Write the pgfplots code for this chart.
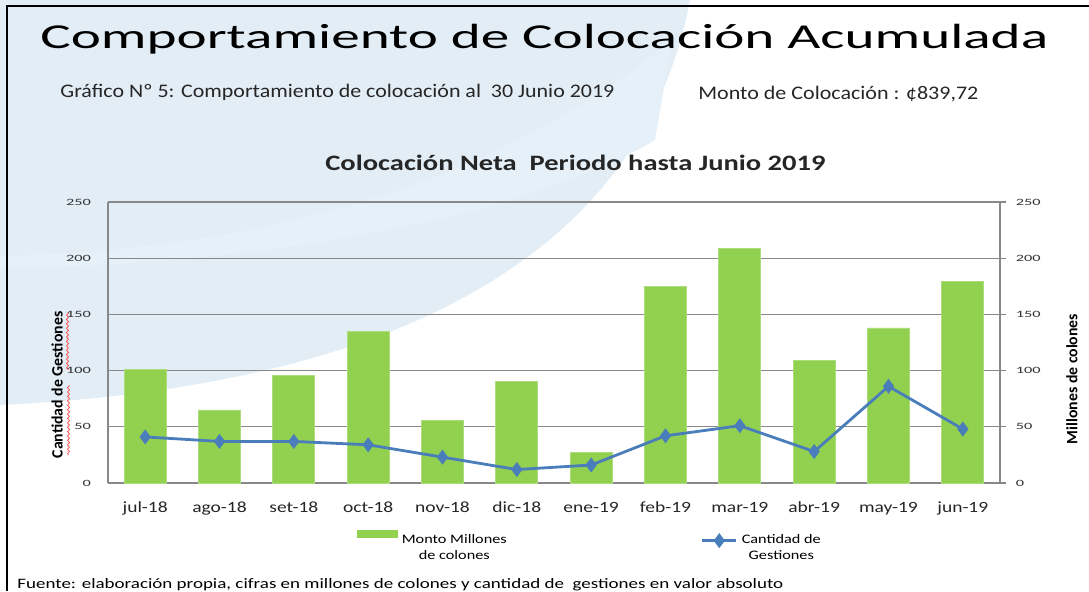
\documentclass[border=0pt]{standalone}
\usepackage{fontspec}
\setmainfont{Carlito}[FakeStretch=1.25]
\newfontfamily\plainfont{Carlito}
\newfontfamily\widefont{Carlito}[FakeStretch=1.7]
\usepackage{graphicx}
\usepackage{pgfplots}
\pgfplotsset{compat=1.18}
\usetikzlibrary{decorations.pathmorphing}

\definecolor{bargreen}{HTML}{92D050}
\definecolor{lineblue}{HTML}{4A7EBB}
\definecolor{gridgray}{HTML}{888888}
\definecolor{swoosh}{HTML}{E3EDF6}
\definecolor{swooshlight}{HTML}{E6F0F8}

% montos en millones de colones y cantidad de gestiones por mes
\pgfplotstableread{
idx month  monto gestiones
0   jul-18 101   41
1   ago-18 65    37
2   set-18 96    37
3   oct-18 135   34
4   nov-18 56    23
5   dic-18 90    12
6   ene-19 27    16
7   feb-19 175   42
8   mar-19 209   51
9   abr-19 109   28
10  may-19 138   86
11  jun-19 179   48
}\datos

% ancho fijo, alto natural
\newcommand{\fitw}[2]{\resizebox{#1}{\height}{#2}}

\begin{document}
\begin{tikzpicture}
\begin{scope}[x=0.5pt,y=-0.5pt]
  \path[use as bounding box] (0,0) rectangle (1089,591);
  % fondo de la diapositiva
  \fill[swoosh] (0,0) -- (690,0) .. controls (645,240) and (420,385) .. (0,405) -- cycle;
  \fill[swooshlight] (0,256) .. controls (250,250) and (490,190) .. (672,40)
     -- (655,140) .. controls (520,220) and (250,266) .. (0,268) -- cycle;
  \draw[line width=1.1pt] (1089,6) -- (7,6) -- (7,591);
  % textos
  \node[anchor=base west, inner sep=0pt, font=\plainfont\fontsize{17.5}{20}\selectfont]
    at (40,48) {\fitw{504pt}{Comportamiento de Colocación Acumulada}};
  \node[anchor=base west, inner sep=0pt, font=\plainfont\fontsize{9.6}{11}\selectfont, text=black!85]
    at (60,97) {\fitw{277pt}{Gráfico Nº 5: Comportamiento de colocación al\ \ 30 Junio 2019}};
  \node[anchor=base west, inner sep=0pt, font=\plainfont\fontsize{9.6}{11}\selectfont, text=black!85]
    at (698,99) {\fitw{140pt}{Monto de Colocación : ¢839,72}};
  \node[anchor=base west, inner sep=0pt, font=\plainfont\bfseries\fontsize{11}{13}\selectfont, text=black!85]
    at (325,170) {\fitw{250pt}{Colocación Neta\ \ Periodo hasta Junio 2019}};
  \node[anchor=base west, inner sep=0pt, font=\plainfont\fontsize{7.2}{9}\selectfont]
    at (17,588) {\fitw{383pt}{Fuente: elaboración propia, cifras en millones de colones y cantidad de\ \ gestiones en valor absoluto}};
  % subrayado ortográfico
  \draw[red!80, line width=0.3pt, decorate, decoration={snake, amplitude=0.5pt, segment length=2.2pt}]
    (68.5,455) -- (68.5,386) (68.5,370) -- (68.5,313);
\end{scope}

% montos (eje derecho)
\begin{axis}[
  at={(54pt,-241.5pt)}, anchor=south west,
  scale only axis, width=446pt, height=140.5pt,
  xmin=-0.5, xmax=11.5, ymin=0, ymax=250,
  ybar, bar width=21pt,
  axis y line*=right, axis x line*=bottom,
  axis line style={gridgray, line width=0.6pt},
  ymajorgrids, grid style={gridgray, line width=0.6pt},
  ytick={0,50,...,250},
  tick align=outside, major tick length=3pt,
  ytick style={gridgray, line width=0.6pt},
  xtick=data, xticklabels from table={\datos}{month},
  xtick style={draw=none},
  xticklabel style={font=\fontsize{7.8}{9}\selectfont, text=black!85, yshift=-3pt},
  yticklabel style={font=\widefont\fontsize{4.8}{6}\selectfont, text=black!80, xshift=1.4pt},
  /pgf/number format/assume math mode=true,
  every axis y label/.style={at={(axis description cs:1.0807,0.37)}, rotate=90, anchor=center},
  ylabel={\plainfont\bfseries\fontsize{7.9}{9}\selectfont Millones de colones},
]
  \addplot[fill=bargreen, draw=bargreen!75!white, line width=0.4pt] table[x=idx, y=monto] {\datos};
\end{axis}

% gestiones (eje izquierdo)
\begin{axis}[
  at={(54pt,-241.5pt)}, anchor=south west,
  scale only axis, width=446pt, height=140.5pt,
  xmin=-0.5, xmax=11.5, ymin=0, ymax=250,
  axis y line*=left, axis x line=none,
  axis line style={gridgray, line width=0.6pt},
  ytick={0,50,...,250}, ytick style={draw=none},
  yticklabel style={font=\widefont\fontsize{4.8}{6}\selectfont, text=black!80, xshift=-5pt},
  /pgf/number format/assume math mode=true,
  every axis y label/.style={at={(axis description cs:-0.057,0.349)}, rotate=90, anchor=center},
  ylabel={\plainfont\bfseries\fontsize{7.9}{9}\selectfont Cantidad de Gestiones},
  legend style={at={(axis description cs:0.272,-0.151)}, anchor=north west,
    draw=none, fill=none, legend columns=2,
    font=\fontsize{6.5}{8}\selectfont, cells={align=center},
    /tikz/every even column/.append style={column sep=95pt}},
  legend image post style={yshift=4pt},
]
  \addlegendimage{legend image code/.code={\fill[bargreen] (0pt,1.6pt) rectangle (20pt,5.2pt);}}
  \addlegendentry{Monto Millones\\de colones}
  \addplot[lineblue, line width=1.4pt, mark=diamond*, mark size=2.6pt, mark options={fill=lineblue}]
    table[x=idx, y=gestiones] {\datos};
  \addlegendentry{Cantidad de\\Gestiones}
\end{axis}
\end{tikzpicture}
\end{document}
